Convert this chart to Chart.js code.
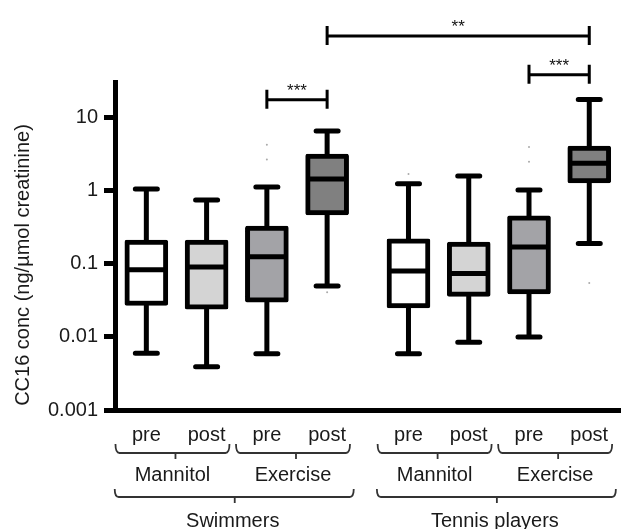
<!DOCTYPE html>
<html>
<head>
<meta charset="utf-8">
<script src="https://cdn.jsdelivr.net/npm/chart.js@4.4.0/dist/chart.umd.min.js"></script>
<style>
body { margin: 0; background: #fff; }
#wrap { width: 624px; height: 529px; }
</style>
</head>
<body>
<div id="wrap"><canvas id="boxChart"></canvas></div>
<script>
// box positions on the x axis (gap between the two groups)
var positions = [1, 2, 3, 4, 5.35, 6.35, 7.35, 8.35];
var conditions = ['pre', 'post', 'pre', 'post', 'pre', 'post', 'pre', 'post'];
var treatments = ['Mannitol', 'Exercise', 'Mannitol', 'Exercise'];
var groups = ['Swimmers', 'Tennis players'];

var mins    = [0.006, 0.0039, 0.0059, 0.05, 0.0059, 0.0085, 0.01, 0.19];
var q1s     = [0.027, 0.024, 0.030, 0.47, 0.025, 0.036, 0.039, 1.29];
var medians = [0.083, 0.091, 0.125, 1.46, 0.080, 0.074, 0.171, 2.4];
var q3s     = [0.213, 0.213, 0.33, 3.2, 0.22, 0.20, 0.455, 4.1];
var maxs    = [1.06, 0.75, 1.13, 6.6, 1.25, 1.6, 1.03, 17.8];

var outlierBox = [2, 2, 3, 4, 6, 6, 7];
var outlierVal = [4.3, 2.7, 0.041, 1.7, 4.0, 2.5, 0.055];

var yTicks = [0.001, 0.01, 0.1, 1, 10];
var yTickLabels = ['0.001', '0.01', '0.1', '1', '10'];

var sigFrom = [2, 3, 6];
var sigTo = [3, 7, 7];
var sigLabels = ['***', '**', '***'];
var sigLevel = [17.7, 132, 39];

var boxColors = ['#ffffff', '#d4d4d4', '#a3a3a7', '#808080', '#ffffff', '#d4d4d4', '#a3a3a7', '#808080'];
var FONT = "'Liberation Sans', Arial, sans-serif";

var boxData = positions.map(function(p, i) { return {x: p, y: [q1s[i], q3s[i]]}; });
var outlierData = outlierBox.map(function(b, i) { return {x: positions[b], y: outlierVal[i]}; });

function bracket(ctx, left, right, y, up, mid, down) {
    ctx.beginPath();
    ctx.moveTo(left, y - up);
    ctx.quadraticCurveTo(left, y, left + 4, y);
    ctx.lineTo(right - 4, y);
    ctx.quadraticCurveTo(right, y, right, y - up);
    ctx.moveTo(mid, y);
    ctx.lineTo(mid, y + down);
    ctx.stroke();
}

var boxParts = {
    id: 'boxParts',
    beforeDatasetsDraw: function(chart) {
        var ctx = chart.ctx, xs = chart.scales.x, ys = chart.scales.y;
        ctx.save();
        ctx.strokeStyle = '#000';
        ctx.lineWidth = 5;
        ctx.lineCap = 'round';
        for (var i = 0; i < positions.length; i++) {
            var x = xs.getPixelForValue(positions[i]);
            var yMax = ys.getPixelForValue(maxs[i]);
            var yMin = ys.getPixelForValue(mins[i]);
            ctx.beginPath();
            ctx.moveTo(x, yMax); ctx.lineTo(x, ys.getPixelForValue(q3s[i]));
            ctx.moveTo(x, ys.getPixelForValue(q1s[i])); ctx.lineTo(x, yMin);
            ctx.moveTo(x - 11, yMax); ctx.lineTo(x + 11, yMax);
            ctx.moveTo(x - 11, yMin); ctx.lineTo(x + 11, yMin);
            ctx.stroke();
        }
        ctx.restore();
    },
    afterDatasetsDraw: function(chart) {
        var ctx = chart.ctx, xs = chart.scales.x, ys = chart.scales.y;
        ctx.save();
        ctx.strokeStyle = '#000';
        ctx.lineWidth = 5;
        for (var i = 0; i < positions.length; i++) {
            var x = xs.getPixelForValue(positions[i]);
            var y = ys.getPixelForValue(medians[i]);
            ctx.beginPath();
            ctx.moveTo(x - 18, y); ctx.lineTo(x + 18, y);
            ctx.stroke();
        }
        ctx.restore();
    },
    afterDraw: function(chart) {
        var ctx = chart.ctx, xs = chart.scales.x, ys = chart.scales.y;
        ctx.save();
        // significance brackets
        ctx.strokeStyle = '#000';
        ctx.fillStyle = '#111';
        ctx.lineWidth = 3;
        ctx.font = '17px ' + FONT;
        ctx.textAlign = 'center';
        ctx.textBaseline = 'alphabetic';
        for (var s = 0; s < sigFrom.length; s++) {
            var x1 = xs.getPixelForValue(positions[sigFrom[s]]);
            var x2 = xs.getPixelForValue(positions[sigTo[s]]);
            var y = ys.getPixelForValue(sigLevel[s]);
            ctx.beginPath();
            ctx.moveTo(x1, y); ctx.lineTo(x2, y);
            ctx.moveTo(x1, y - 10); ctx.lineTo(x1, y + 9);
            ctx.moveTo(x2, y - 10); ctx.lineTo(x2, y + 9);
            ctx.stroke();
            ctx.fillText(sigLabels[s], (x1 + x2) / 2, y - 4);
        }

        // y axis title
        ctx.fillStyle = '#1a1a1a';
        ctx.font = '20px ' + FONT;
        ctx.textBaseline = 'middle';
        ctx.save();
        ctx.translate(23, 265);
        ctx.rotate(-Math.PI / 2);
        ctx.fillText('CC16 conc (ng/\u00b5mol creatinine)', 0, 0);
        ctx.restore();

        // multi-level x labels
        var i;
        for (i = 0; i < conditions.length; i++) {
            ctx.fillText(conditions[i], xs.getPixelForValue(positions[i]), 435);
        }
        ctx.strokeStyle = '#333';
        ctx.lineWidth = 1.8;
        for (i = 0; i < treatments.length; i++) {
            var m = (xs.getPixelForValue(positions[2 * i]) + xs.getPixelForValue(positions[2 * i + 1])) / 2;
            bracket(ctx, m - 61, m + 53, 453, 9, m - 1, 6);
            ctx.fillText(treatments[i], m - 4, 475);
        }
        for (i = 0; i < groups.length; i++) {
            var g = (xs.getPixelForValue(positions[4 * i]) + xs.getPixelForValue(positions[4 * i + 3])) / 2;
            bracket(ctx, g - 122, g + 117, 497, 8, g - 2, 6);
            ctx.fillText(groups[i], g - 4, 521);
        }
        ctx.restore();
    }
};

var ctx = document.getElementById('boxChart').getContext('2d');
new Chart(ctx, {
    type: 'bar',
    data: {
        datasets: [{
            label: 'CC16',
            data: boxData,
            backgroundColor: boxColors,
            borderColor: '#000',
            borderWidth: 5,
            borderSkipped: false,
            borderRadius: 2,
            barThickness: 43,
            order: 2
        }, {
            type: 'scatter',
            label: 'outliers',
            data: outlierData,
            pointRadius: 1,
            pointBackgroundColor: '#aaa',
            pointBorderWidth: 0,
            order: 1
        }]
    },
    options: {
        responsive: true,
        maintainAspectRatio: false,
        animation: false,
        layout: { padding: { top: 82, right: 2, left: 0, bottom: 0 } },
        plugins: { legend: { display: false }, tooltip: { enabled: false } },
        scales: {
            x: {
                type: 'linear',
                min: 0.48,
                max: 8.86,
                offset: false,
                ticks: { display: false },
                grid: { display: false },
                border: { display: true, color: '#000', width: 5 },
                afterFit: function(scale) { scale.height = 119; }
            },
            y: {
                type: 'logarithmic',
                min: 0.001,
                max: 31,
                afterBuildTicks: function(scale) {
                    scale.ticks = yTicks.map(function(v) { return {value: v}; });
                },
                ticks: {
                    color: '#1a1a1a',
                    font: { family: FONT, size: 20 },
                    padding: 6,
                    callback: function(v) {
                        var k = yTicks.indexOf(v);
                        return k >= 0 ? yTickLabels[k] : '';
                    }
                },
                grid: { drawOnChartArea: false, drawTicks: true, tickLength: 11, tickWidth: 5, tickColor: '#000' },
                border: { display: true, color: '#000', width: 5 },
                afterFit: function(scale) { scale.width = 115; }
            }
        }
    },
    plugins: [boxParts]
});
</script>
</body>
</html>
